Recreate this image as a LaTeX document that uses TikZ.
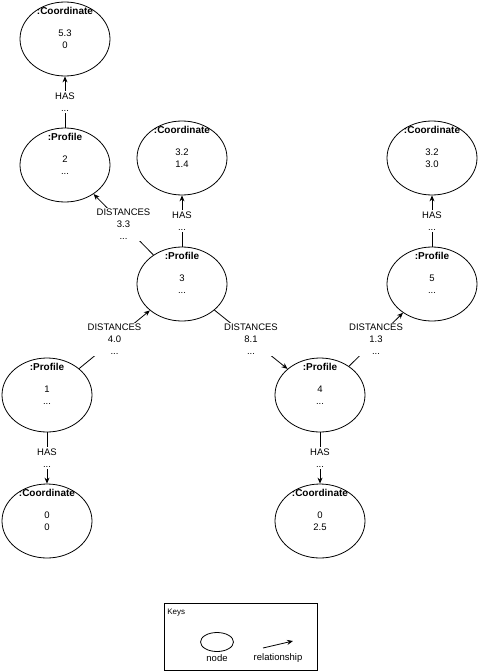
\documentclass[tikz,border=0pt]{standalone}
\usepackage{fontspec}
\setmainfont{Liberation Sans}
\usetikzlibrary{shapes.geometric, arrows.meta, positioning}

\tikzset{
  entity/.style = {draw, ellipse, minimum width=90pt, minimum height=74pt,
    inner sep=0pt, align=center, label={[entityname]north:{#1}}},
  entityname/.style = {anchor=north, font=\bfseries, inner sep=1pt, yshift=-4pt},
  rel/.style = {-{Stealth[length=6pt, width=5pt]}},
  rellabel/.style = {fill=white, align=center, inner sep=1.5pt}
}

\begin{document}
\begin{tikzpicture}
  [x=1pt, y=-1pt, line width=0.8pt, font=\fontsize{9.5}{12}\selectfont]
  \useasboundingbox (0,0) rectangle (481,672);
  % profiles and their coordinates
  \node (coord1) [entity={:Coordinate}] at (65,39)   {5.3\\0};
  \node (prof2)  [entity={:Profile}]    at (65,165)  {2\\...};
  \node (coord2) [entity={:Coordinate}] at (182,158) {3.2\\1.4};
  \node (prof3)  [entity={:Profile}]    at (182,284) {3\\...};
  \node (coord3) [entity={:Coordinate}] at (432,158) {3.2\\3.0};
  \node (prof5)  [entity={:Profile}]    at (432,284) {5\\...};
  \node (prof1)  [entity={:Profile}]    at (47,395)  {1\\...};
  \node (coord0) [entity={:Coordinate}] at (47,521)  {0\\0};
  \node (prof4)  [entity={:Profile}]    at (320,395) {4\\...};
  \node (coord4) [entity={:Coordinate}] at (320,521) {0\\2.5};
  % relationships
  \draw[rel] (prof2) -- node[rellabel] {HAS\\...} (coord1);
  \draw[rel] (prof3) -- node[rellabel] {HAS\\...} (coord2);
  \draw[rel] (prof5) -- node[rellabel] {HAS\\...} (coord3);
  \draw[rel] (prof1) -- node[rellabel] {HAS\\...} (coord0);
  \draw[rel] (prof4) -- node[rellabel] {HAS\\...} (coord4);
  \draw[rel] (prof3) -- node[rellabel] {DISTANCES\\3.3\\...} (prof2);
  \draw[rel] (prof1) -- node[rellabel] {DISTANCES\\4.0\\...} (prof3);
  \draw[rel] (prof3) -- node[rellabel] {DISTANCES\\8.1\\...} (prof4);
  \draw[rel] (prof4) -- node[rellabel] {DISTANCES\\1.3\\...} (prof5);
  % keys
  \node (keys) [draw, minimum width=153pt, minimum height=67pt, anchor=north west] at (164,603) {};
  \node (keystitle) [anchor=west, inner sep=0pt, font=\fontsize{8}{9}\selectfont] at (167,613) {Keys};
  \node (keynode) [draw, ellipse, minimum width=33pt, minimum height=19pt] at (217,642) {};
  \node (keynodetext) at (217,658) {node};
  \coordinate (relstart) at (263,648);
  \coordinate (relend) at (293,641);
  \draw[rel] (relstart) -- (relend);
  \node (keyreltext) at (278,658) {relationship};
\end{tikzpicture}
\end{document}
